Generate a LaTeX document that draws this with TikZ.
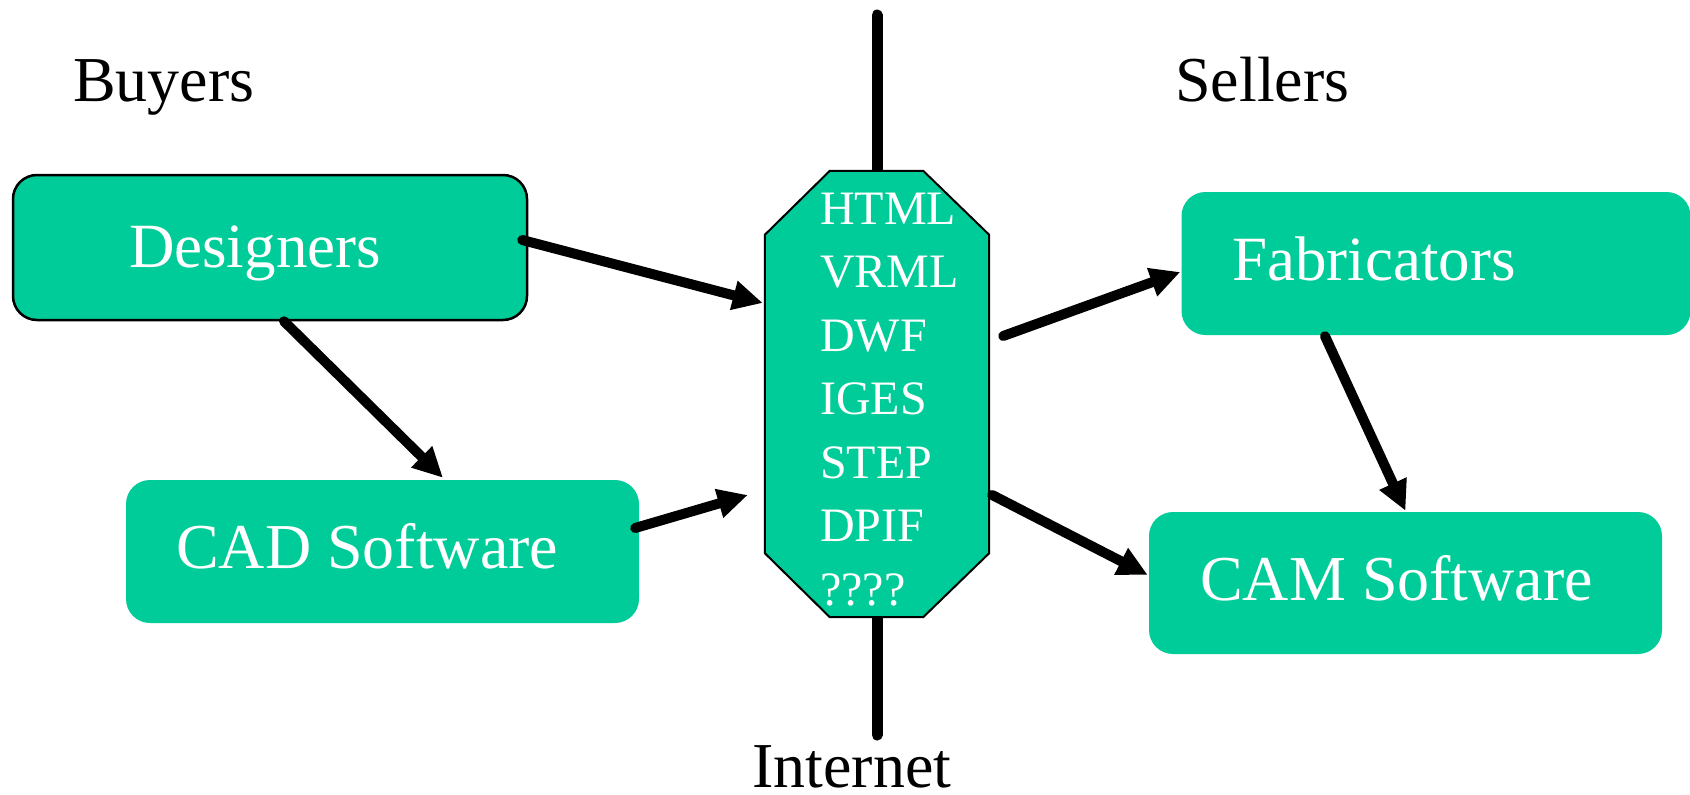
\documentclass[tikz,border=0pt]{standalone}
\usepackage{fontspec}
\setmainfont{Liberation Serif}
\usetikzlibrary{arrows.meta,calc}
\definecolor{boxgreen}{RGB}{0,204,153}
\tikzset{
  box/.style={rectangle, fill=boxgreen, rounded corners=24pt, inner sep=0pt},
  framedbox/.style={box, draw=black, line width=2.5pt},
  boxtext/.style={inner sep=0pt, text=white, font=\fontsize{63}{63}\selectfont},
  bigtext/.style={inner sep=0pt, text=black, font=\fontsize{64}{64}\selectfont},
  fmttext/.style={inner sep=0pt, text=white, font=\fontsize{48}{48}\selectfont, anchor=base west},
  flow/.style={line width=10pt, line cap=round, -{Triangle[length=30pt,width=28pt]}},
  netline/.style={line width=11pt, line cap=round},
}
\begin{document}
\begin{tikzpicture}[x=1pt,y=-1pt]
\useasboundingbox (0,0) rectangle (1690,795);
% internet line
\coordinate (itop) at (877,15);
\coordinate (ibot) at (877,735);
\draw[netline] (itop) -- (ibot);
% boxes
\node[framedbox, minimum width=514pt, minimum height=145pt] (des) at (270,247.5) {};
\node[box, minimum width=513pt, minimum height=143pt] (cad) at (382.5,551.5) {};
\node[box, minimum width=509pt, minimum height=143pt] (fab) at (1436,263.5) {};
\node[box, minimum width=513pt, minimum height=142pt] (cam) at (1405.5,583) {};
% octagon
\node[rectangle, inner sep=0pt, minimum width=224pt, minimum height=446pt] (oct) at (877,394) {};
\draw[fill=boxgreen, line width=2pt, line join=miter]
  ($(oct.north west)+(0,64)$) -- ($(oct.north west)+(65,0)$) --
  ($(oct.north east)+(-66,0)$) -- ($(oct.north east)+(0,64)$) --
  ($(oct.south east)+(0,-64)$) -- ($(oct.south east)+(-66,0)$) --
  ($(oct.south west)+(65,0)$) -- ($(oct.south west)+(0,-64)$) -- cycle;
% texts
\node[boxtext, anchor=base] (destext) at (255,267) {Designers};
\node[boxtext, anchor=base west, font=\fontsize{64}{64}\selectfont] (cadtext) at (176,568) {CAD Software};
\node[boxtext, anchor=base west] (fabtext) at (1232,280) {Fabricators};
\node[boxtext, anchor=base west, font=\fontsize{64}{64}\selectfont] (camtext) at (1200,600) {CAM Software};
\node[bigtext, anchor=base west] (buyers) at (73,101) {Buyers};
\node[bigtext, anchor=base west] (sellers) at (1175,101) {Sellers};
\node[bigtext, anchor=base west] (internet) at (752,787) {Internet};
\foreach \t [count=\i] in {HTML,VRML,DWF,IGES,STEP,DPIF,????}
  \node[fmttext] (fmt\i) at (820,{224+63.5*(\i-1)}) {\t};
% connectors
\draw[flow] ($(des.east)+(-6,-7.5)$) -- ($(oct.west)+(-2,-91)$);
\draw[flow] ($(des.south)+(14,0)$) -- ($(cad.north)+(60.5,-2)$);
\draw[flow] ($(cad.east)+(-4,-23.5)$) -- ($(oct.west)+(-17,101)$);
\draw[flow] ($(oct.east)+(14,-58)$) -- ($(fab.west)+(-1,8.5)$);
\draw[flow] ($(fab.south)+(-111,1)$) -- ($(cam.north)+(0,-1)$);
\draw[flow] ($(oct.east)+(3,101)$) -- ($(cam.west)+(-1,-8)$);
\end{tikzpicture}
\end{document}
